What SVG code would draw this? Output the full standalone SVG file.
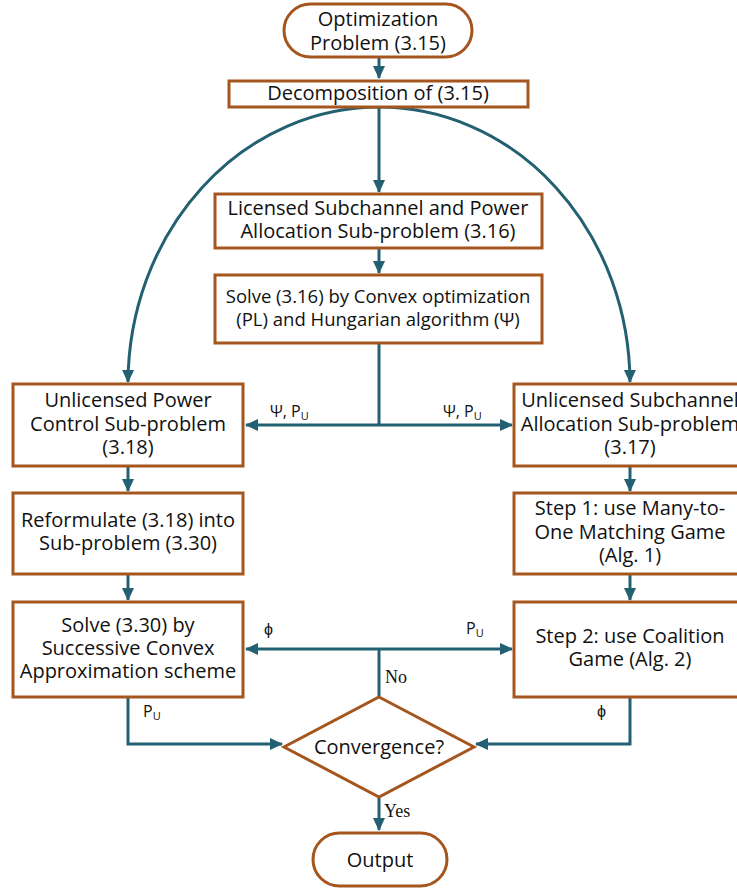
<svg xmlns="http://www.w3.org/2000/svg" width="737" height="888" viewBox="0 0 737 888">
<style>
.b{fill:#fff;stroke:#A5561F;stroke-width:3}
.t{font-family:"Open Sans","Liberation Sans",sans-serif;font-size:20px;fill:#111;text-anchor:middle}
.t17{font-size:18.5px}
.s{font-family:"Open Sans","Liberation Sans",sans-serif;font-size:16px;fill:#111}
.r{font-family:"Liberation Serif",serif;font-size:18px;fill:#111}
.c{fill:none;stroke:#236072;stroke-width:3}
</style>
<defs>
<marker id="a" markerUnits="userSpaceOnUse" markerWidth="14" markerHeight="14" viewBox="0 0 14 14" refX="12" refY="7" orient="auto">
<path d="M0,1 L13,7 L0,13 Z" fill="#236072"/>
</marker>
</defs>
<g id="connectors">
<path class="c" d="M379,57 V78" marker-end="url(#a)"/>
<path class="c" d="M379,107 V192" marker-end="url(#a)"/>
<path class="c" d="M379,248 V273" marker-end="url(#a)"/>
<path class="c" d="M379,107 A251,277 0 0 0 128,382" marker-end="url(#a)"/>
<path class="c" d="M379,107 A251,277 0 0 1 630,382" marker-end="url(#a)"/>
<path class="c" d="M379,343 V425"/>
<path class="c" d="M379,425 H246" marker-end="url(#a)"/>
<path class="c" d="M379,425 H512" marker-end="url(#a)"/>
<path class="c" d="M128,466 V491" marker-end="url(#a)"/>
<path class="c" d="M128,574 V600" marker-end="url(#a)"/>
<path class="c" d="M630,466 V491" marker-end="url(#a)"/>
<path class="c" d="M630,574 V600" marker-end="url(#a)"/>
<path class="c" d="M379,697 V649"/>
<path class="c" d="M379,649 H246" marker-end="url(#a)"/>
<path class="c" d="M379,649 H512" marker-end="url(#a)"/>
<path class="c" d="M128,697 V744 H282" marker-end="url(#a)"/>
<path class="c" d="M630,697 V744 H476" marker-end="url(#a)"/>
<path class="c" d="M379,798 V830" marker-end="url(#a)"/>
<text class="s" x="270" y="417">Ψ,  P<tspan font-size="11" dy="3">U</tspan></text>
<text class="s" x="443" y="417">Ψ,  P<tspan font-size="11" dy="3">U</tspan></text>
<text class="s" x="264" y="635">ϕ</text>
<text class="s" x="466" y="634">P<tspan font-size="11" dy="3">U</tspan></text>
<text class="r" x="385" y="683">No</text>
<text class="s" x="143" y="717">P<tspan font-size="11" dy="3">U</tspan></text>
<text class="s" x="597" y="717">ϕ</text>
<text class="r" x="384" y="817">Yes</text>
</g>
<g id="start">
<rect class="b" x="284" y="4" width="188" height="53" rx="26.5"/>
<text class="t" x="378" y="26">Optimization</text>
<text class="t" x="378" y="50">Problem (3.15)</text>
</g>
<g id="decomp">
<rect class="b" x="229" y="81" width="299" height="26"/>
<text class="t" x="378" y="100">Decomposition of (3.15)</text>
</g>
<g id="licensed">
<rect class="b" x="215" y="194" width="327" height="54"/>
<text class="t" x="378" y="215">Licensed Subchannel and Power</text>
<text class="t" x="378" y="238">Allocation Sub-problem (3.16)</text>
</g>
<g id="solve316">
<rect class="b" x="215" y="275" width="327" height="68"/>
<text class="t t17" x="378" y="303">Solve (3.16) by Convex optimization</text>
<text class="t t17" x="378" y="326">(PL) and Hungarian algorithm (Ψ)</text>
</g>
<g id="upc">
<rect class="b" x="13" y="384" width="230" height="82"/>
<text class="t" x="128" y="407">Unlicensed Power</text>
<text class="t" x="128" y="431">Control Sub-problem</text>
<text class="t" x="128" y="454">(3.18)</text>
</g>
<g id="usa">
<rect class="b" x="514" y="384" width="232" height="82"/>
<text class="t" x="630" y="407">Unlicensed Subchannel</text>
<text class="t" x="630" y="431">Allocation Sub-problem</text>
<text class="t" x="630" y="454">(3.17)</text>
</g>
<g id="reform">
<rect class="b" x="13" y="493" width="230" height="81"/>
<text class="t" x="128" y="527">Reformulate (3.18) into</text>
<text class="t" x="128" y="550">Sub-problem (3.30)</text>
</g>
<g id="step1">
<rect class="b" x="514" y="493" width="232" height="81"/>
<text class="t" x="630" y="515">Step 1: use Many-to-</text>
<text class="t" x="630" y="539">One Matching Game</text>
<text class="t" x="630" y="562">(Alg. 1)</text>
</g>
<g id="solve330">
<rect class="b" x="13" y="602" width="230" height="95"/>
<text class="t" x="128" y="632">Solve (3.30) by</text>
<text class="t" x="128" y="655">Successive Convex</text>
<text class="t" x="128" y="678">Approximation scheme</text>
</g>
<g id="step2">
<rect class="b" x="514" y="602" width="232" height="95"/>
<text class="t" x="630" y="643">Step 2: use Coalition</text>
<text class="t" x="630" y="666">Game (Alg. 2)</text>
</g>
<g id="convergence">
<path class="b" d="M379,697 L474,747 L379,797 L284,747 Z"/>
<text class="t" x="379" y="754">Convergence?</text>
</g>
<g id="output">
<rect class="b" x="313" y="833" width="134" height="53" rx="26.5"/>
<text class="t" x="380" y="867">Output</text>
</g>
</svg>
